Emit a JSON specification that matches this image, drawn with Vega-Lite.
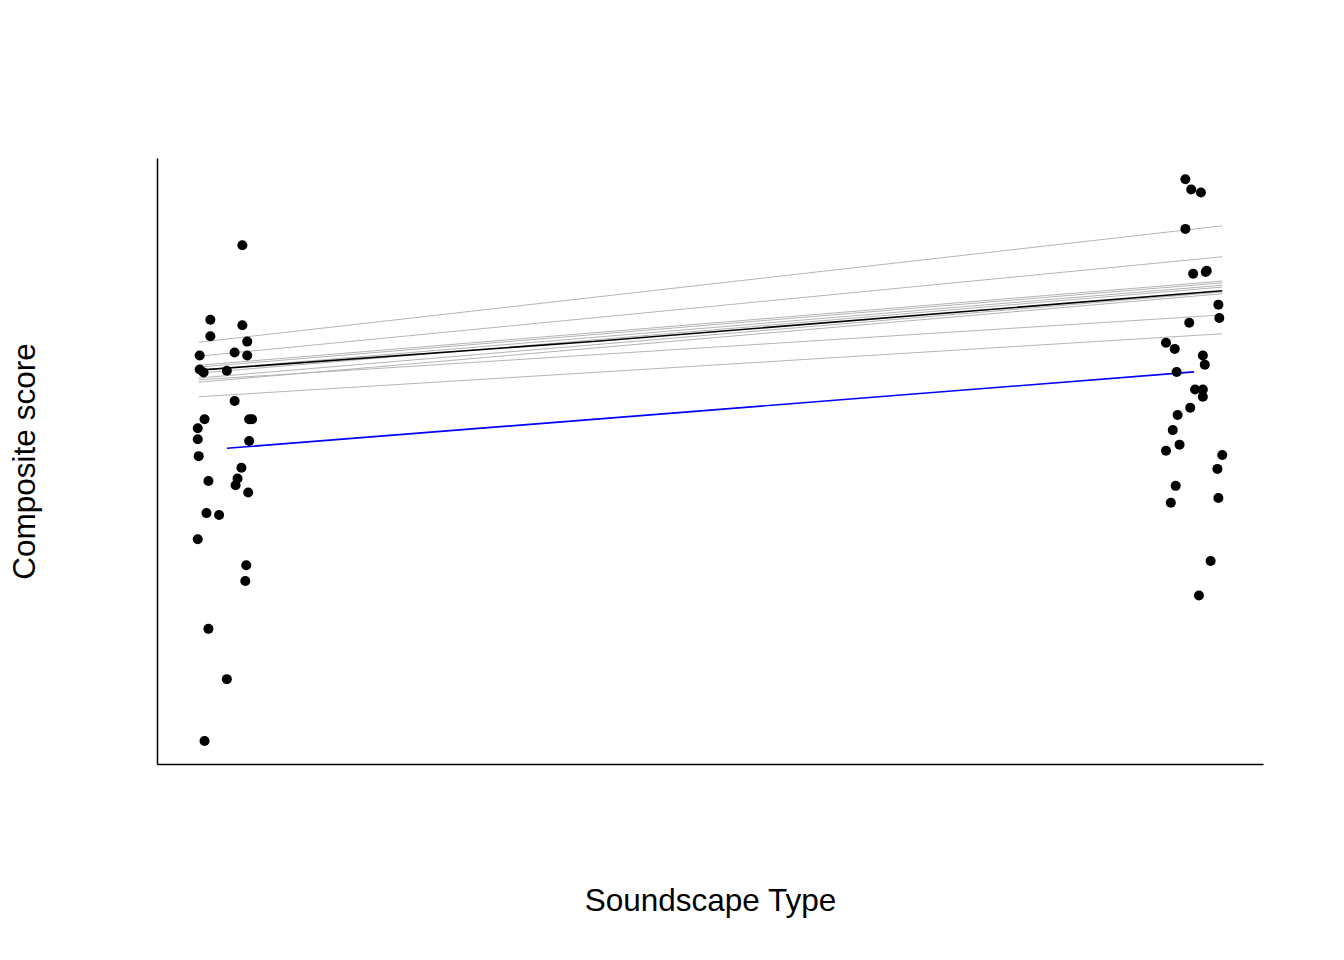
{
  "$schema": "https://vega.github.io/schema/vega-lite/v6.json",
  "width": 1106,
  "height": 606,
  "autosize": "none",
  "padding": {"left": 157, "top": 158, "right": 81, "bottom": 196},
  "background": "white",
  "datasets": {
    "points": [
      {"type": 1.019, "score": 8.56}, {"type": 0.986, "score": 7.33}, {"type": 1.019, "score": 7.24},
      {"type": 0.986, "score": 7.06}, {"type": 1.024, "score": 6.97}, {"type": 0.975, "score": 6.74},
      {"type": 1.011, "score": 6.79}, {"type": 1.024, "score": 6.74}, {"type": 0.975, "score": 6.51},
      {"type": 0.979, "score": 6.46}, {"type": 1.003, "score": 6.49}, {"type": 1.011, "score": 5.99},
      {"type": 0.980, "score": 5.69}, {"type": 1.026, "score": 5.69}, {"type": 1.029, "score": 5.69},
      {"type": 0.973, "score": 5.54}, {"type": 0.973, "score": 5.36}, {"type": 1.026, "score": 5.33},
      {"type": 0.974, "score": 5.08}, {"type": 1.018, "score": 4.89}, {"type": 0.984, "score": 4.67},
      {"type": 1.014, "score": 4.71}, {"type": 1.012, "score": 4.60}, {"type": 1.025, "score": 4.48},
      {"type": 0.982, "score": 4.14}, {"type": 0.995, "score": 4.11}, {"type": 0.973, "score": 3.71},
      {"type": 1.023, "score": 3.28}, {"type": 1.022, "score": 3.02}, {"type": 0.984, "score": 2.23},
      {"type": 1.003, "score": 1.40}, {"type": 0.980, "score": 0.38},
      {"type": 1.991, "score": 9.65}, {"type": 1.997, "score": 9.48}, {"type": 2.007, "score": 9.43},
      {"type": 1.991, "score": 8.83}, {"type": 1.999, "score": 8.09}, {"type": 2.012, "score": 8.12},
      {"type": 2.013, "score": 8.14}, {"type": 2.025, "score": 7.58}, {"type": 2.026, "score": 7.36},
      {"type": 1.995, "score": 7.28}, {"type": 1.971, "score": 6.95}, {"type": 1.980, "score": 6.85},
      {"type": 2.009, "score": 6.74}, {"type": 2.011, "score": 6.59}, {"type": 1.982, "score": 6.47},
      {"type": 2.001, "score": 6.18}, {"type": 2.009, "score": 6.18}, {"type": 2.009, "score": 6.06},
      {"type": 1.996, "score": 5.88}, {"type": 1.983, "score": 5.76}, {"type": 1.978, "score": 5.51},
      {"type": 1.985, "score": 5.27}, {"type": 1.971, "score": 5.17}, {"type": 2.029, "score": 5.10},
      {"type": 2.024, "score": 4.87}, {"type": 1.981, "score": 4.59}, {"type": 1.976, "score": 4.31},
      {"type": 2.025, "score": 4.39}, {"type": 2.017, "score": 3.35}, {"type": 2.005, "score": 2.78}
    ],
    "subjects": [
      {"id": "s1", "type": 0.974, "score": 6.96}, {"id": "s1", "type": 2.029, "score": 8.88},
      {"id": "s2", "type": 0.974, "score": 6.73}, {"id": "s2", "type": 2.029, "score": 8.37},
      {"id": "s3", "type": 0.974, "score": 6.58}, {"id": "s3", "type": 2.029, "score": 7.97},
      {"id": "s4", "type": 0.974, "score": 6.55}, {"id": "s4", "type": 2.029, "score": 7.94},
      {"id": "s5", "type": 0.974, "score": 6.50}, {"id": "s5", "type": 2.029, "score": 7.90},
      {"id": "s6", "type": 0.974, "score": 6.45}, {"id": "s6", "type": 2.029, "score": 7.87},
      {"id": "s7", "type": 0.974, "score": 6.37}, {"id": "s7", "type": 2.029, "score": 7.79},
      {"id": "s8", "type": 0.974, "score": 6.30}, {"id": "s8", "type": 2.029, "score": 7.76},
      {"id": "s9", "type": 0.974, "score": 6.34}, {"id": "s9", "type": 2.029, "score": 7.41},
      {"id": "s10", "type": 0.974, "score": 6.06}, {"id": "s10", "type": 2.029, "score": 7.10}
    ],
    "overall": [
      {"type": 0.974, "score": 6.50}, {"type": 1.387, "score": 6.98}, {"type": 2.029, "score": 7.81}
    ],
    "fixed": [
      {"type": 1.003, "score": 5.21}, {"type": 2.0, "score": 6.47}
    ]
  },
  "encoding": {
    "x": {
      "field": "type",
      "type": "quantitative",
      "title": "Soundscape Type",
      "scale": {"domain": [0.931, 2.071], "nice": false, "zero": false},
      "axis": {"labels": false, "ticks": false, "grid": false, "titlePadding": 121}
    },
    "y": {
      "field": "score",
      "type": "quantitative",
      "title": "Composite score",
      "scale": {"domain": [0, 10], "nice": false, "zero": false},
      "axis": {"labels": false, "ticks": false, "grid": false, "titlePadding": 116}
    }
  },
  "layer": [
    {
      "data": {"name": "subjects"},
      "mark": {"type": "line", "color": "#b4b4b4", "strokeWidth": 1},
      "encoding": {"detail": {"field": "id"}}
    },
    {
      "data": {"name": "overall"},
      "mark": {"type": "line", "color": "black", "strokeWidth": 1.6},
      "encoding": {}
    },
    {
      "data": {"name": "fixed"},
      "mark": {"type": "line", "color": "#0000ff", "strokeWidth": 1.6},
      "encoding": {}
    },
    {
      "data": {"name": "points"},
      "mark": {"type": "circle", "color": "black", "opacity": 1, "size": 100}
    }
  ],
  "config": {
    "view": {"stroke": null},
    "axis": {
      "domainColor": "black",
      "domainWidth": 1.5,
      "titleFont": "Liberation Sans",
      "titleFontSize": 31.5,
      "titleFontWeight": "normal",
      "titleColor": "black"
    }
  }
}
